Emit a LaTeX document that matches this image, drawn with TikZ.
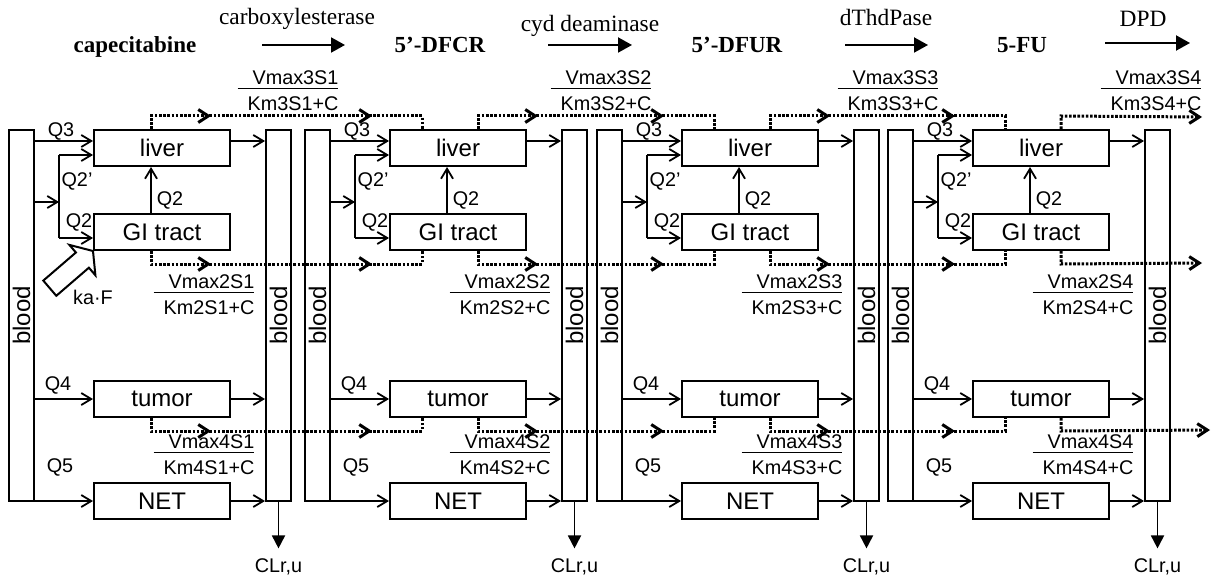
\documentclass[tikz,border=0pt]{standalone}
\usepackage{fontspec}
\setmainfont{Liberation Serif}
\setsansfont{Liberation Sans}
\usepackage{graphicx}
\usetikzlibrary{positioning,arrows.meta,calc,decorations.markings}
\setlength{\arrayrulewidth}{0.8pt}
\newcommand{\ratefrac}[2]{\begin{tabular}{@{\hspace{5pt}}r@{}}Vmax#1S#2\\[-2pt]\hline\rule{0pt}{10.5pt}Km#1S#2+C\end{tabular}}

\begin{document}
\begin{tikzpicture}[x=0.5pt,y=-0.5pt,every node/.style={font=\sffamily\fontsize{9.9}{11.5}\selectfont,inner sep=0pt},
    organ/.style={draw,line width=1pt,minimum width=68pt,minimum height=18pt,font=\sffamily\fontsize{12}{13}\selectfont},
    bloodbar/.style={draw,line width=1pt,minimum width=12.5pt,minimum height=185.5pt,font=\sffamily\fontsize{12}{13}\selectfont},
    flow/.style={line width=0.9pt,-{Straight Barb[length=5pt,width=6pt]}},
    drain/.style={line width=0.9pt,-{Triangle[length=6.5pt,width=6.5pt]},shorten >=5pt},
    conv/.style={line width=1.5pt,dash pattern=on 1.3pt off 0.8pt},
    convmid/.style={conv,postaction={decorate},decoration={markings,
      mark=at position 36.5pt with {\arrow{Straight Barb[length=5pt,width=6.5pt]}},
      mark=at position -31.5pt with {\arrow{Straight Barb[length=5pt,width=6.5pt]}}}},
    chem/.style={font=\rmfamily\bfseries\fontsize{11.5}{14}\selectfont,anchor=base},
    enz/.style={font=\rmfamily\fontsize{11.7}{14}\selectfont,anchor=base},
    hdarrow/.style={line width=1pt,-{Triangle[length=7pt,width=7.5pt]}}]
  \useasboundingbox (0,0) rectangle (1213,577);
  % metabolic chain
  \node[chem] (cape) at (135,53) {capecitabine};
  \node[chem] (dfcr) at (440,53) {5’-DFCR};
  \node[chem] (dfur) at (737,53) {5’-DFUR};
  \node[chem] (fu) at (1022,53) {5-FU};
  \node[enz] (ces) at (297,25) {carboxylesterase};
  \node[enz] (cda) at (590,32) {cyd deaminase};
  \node[enz] (tp) at (886,26) {dThdPase};
  \node[enz] (dpd) at (1143,27) {DPD};
  \coordinate (ha1) at (262,45); \coordinate (hb1) at (345,45);
  \coordinate (ha2) at (548,45); \coordinate (hb2) at (632,45);
  \coordinate (ha3) at (845,45); \coordinate (hb3) at (928,45);
  \coordinate (ha4) at (1105,43); \coordinate (hb4) at (1190,43);
  \foreach \k in {1,...,4} \draw[hdarrow] (ha\k) -- (hb\k);
  % one compartment model per metabolite
  \foreach \i/\x/\ox/\rx in {1/9/57/288,2/305/88/601,3/597/88/888,4/888/88/1151}{
    \node[bloodbar] (bl\i) at (\x+12.5,315.5) {\rotatebox{90}{blood}};
    \node[bloodbar] (br\i) at (\x+269.5,315.5) {\rotatebox{90}{blood}};
    \node[organ] (liver\i) at (\x+153,148) {liver};
    \node[organ] (gi\i) at (\x+153,232) {GI tract};
    \node[organ] (tumor\i) at (\x+153,399) {tumor};
    \node[organ] (net\i) at (\x+153,501) {NET};
    \coordinate (q3\i) at ($(liver\i.west)+(0,-7)$);
    \coordinate (q2a\i) at ($(liver\i.west)+(0,7)$);
    \coordinate (q2b\i) at ($(gi\i.west)+(0,6)$);
    \coordinate (sp\i) at (\x+50,202);
    \coordinate (up\i) at (\x+142,0);
    \coordinate (out\i) at (\x+85+\ox,0);
    \coordinate (in\i) at (\x+117,0);
    \draw[flow] (bl\i.east |- q3\i) -- (q3\i);
    \draw[flow] (bl\i.east |- sp\i) -- (sp\i);
    \draw[line width=0.9pt] (q2a\i -| sp\i) -- (q2b\i -| sp\i);
    \draw[flow] (q2a\i -| sp\i) -- (q2a\i);
    \draw[flow] (q2b\i -| sp\i) -- (q2b\i);
    \draw[flow] (gi\i.north -| up\i) -- (liver\i.south -| up\i);
    \draw[flow] (q3\i -| liver\i.east) -- (q3\i -| br\i.west);
    \draw[flow] (bl\i.east |- tumor\i.west) -- (tumor\i.west);
    \draw[flow] (tumor\i.east) -- (tumor\i.east -| br\i.west);
    \draw[flow] (bl\i.east |- net\i.west) -- (net\i.west);
    \draw[flow] (net\i.east) -- (net\i.east -| br\i.west);
    \node (cl\i) at (\x+269.5,567) {CLr,u};
    \draw[drain] (br\i.south) -- (cl\i.north);
    \node (q3l\i) at (\x+52,131) {Q3};
    \node (q2pl\i) at (\x+68,181) {Q2’};
    \node (q2l\i) at (\x+70,222) {Q2};
    \node (q2ul\i) at (\x+161,200) {Q2};
    \node (q4l\i) at (\x+49,385) {Q4};
    \node (q5l\i) at (\x+51,467) {Q5};
    \node (r3\i) at (\rx,93) {\ratefrac{3}{\i}};
    \node (r2\i) at (\x+195,297) {\ratefrac{2}{\i}};
    \node (r4\i) at (\x+195,457) {\ratefrac{4}{\i}};
  }
  % conversion to the next metabolite
  \foreach \i/\j in {1/2,2/3,3/4}{
    \draw[convmid] (liver\i.north -| out\i) -- ++(0,-13) -| (liver\j.north -| in\j);
    \draw[convmid] (gi\i.south -| out\i) -- ++(0,13) -| (gi\j.south -| in\j);
    \draw[convmid] (tumor\i.south -| out\i) -- ++(0,13) -| (tumor\j.south -| in\j);
  }
  \coordinate (endL) at (1202,117);
  \coordinate (endG) at (1202,263);
  \coordinate (endT) at (1210,430);
  \draw[conv,-{Straight Barb[length=5pt,width=6.5pt]}] (liver4.north -| out4) -- ++(0,-13) -- (endL);
  \draw[conv,-{Straight Barb[length=5pt,width=6.5pt]}] (gi4.south -| out4) -- ++(0,13) -- (endG);
  \draw[conv,-{Straight Barb[length=5pt,width=6.5pt]}] (tumor4.south -| out4) -- ++(0,13) -- (endT);
  % oral absorption
  \draw[line width=1pt,fill=white,shift={(gi1.south west)}] (0,0) -- (2.4,24.3) -- (-4.1,16.7) -- (-36.7,44.8)
    -- (-49.7,29.6) -- (-17.1,1.5) -- (-23.6,-6.1) -- cycle;
  \node (kaf) at (93,297) {ka·F};
\end{tikzpicture}
\end{document}
